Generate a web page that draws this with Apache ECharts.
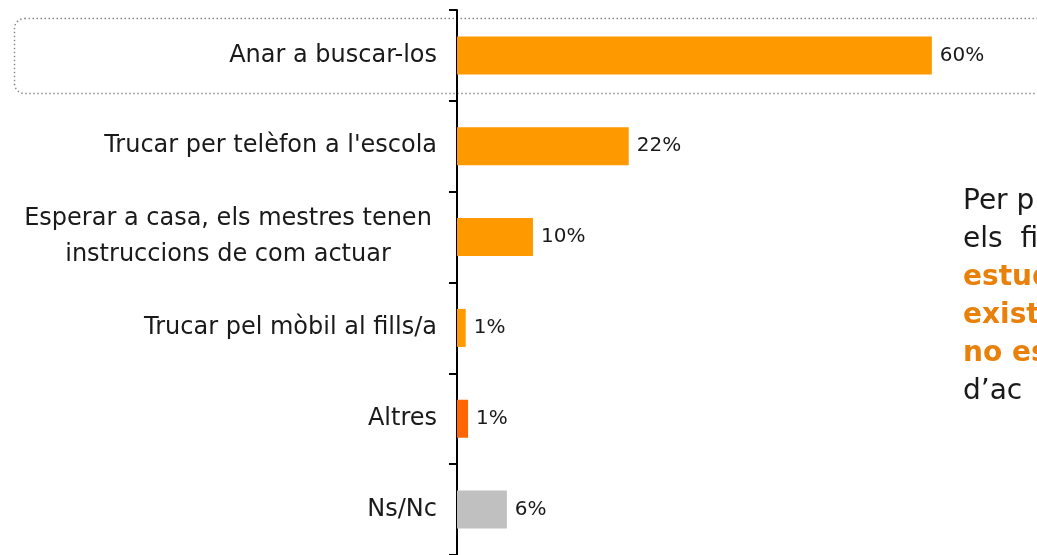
<!DOCTYPE html>
<html>
<head>
<meta charset="utf-8">
<script src="https://cdn.jsdelivr.net/npm/echarts@6/dist/echarts.min.js"></script>
<style>
  html, body { margin: 0; padding: 0; background: #fff; }
  #chart { width: 1037px; height: 555px; }
</style>
</head>
<body>
<div id="chart"></div>
<script>
// values (labels show the rounded number)
const categories = [
    'Anar a buscar-los',
    "Trucar per telèfon a l'escola",
    'Esperar a casa, els mestres tenen\ninstruccions de com actuar',
    'Trucar pel mòbil al fills/a',
    'Altres',
    'Ns/Nc'
];
const values = [60, 21.7, 9.6, 1.1, 1.4, 6.3];

// side note, cut off by the right edge in the original
const noteLines = ['Per p', 'els  fi', 'estud', 'existe', 'no es', 'd’ac'];
const noteHighlight = [false, false, true, true, true, false];

const barColors = ['#FF9900', '#FF9900', '#FF9900', '#FF9900', '#FF6600', '#C0C0C0'];
const FONT = '"DejaVu Sans", sans-serif';

document.addEventListener('DOMContentLoaded', () => {
    const chart = echarts.init(document.getElementById('chart'));

    const noteText = noteLines
        .map((t, i) => (noteHighlight[i] ? '{o|' : '{n|') + t + '}')
        .join('\n');

    const option = {
        animation: false,
        grid: {
            left: 457,
            right: 26,
            top: 10,
            bottom: -2,
            containLabel: false
        },
        xAxis: {
            type: 'value',
            min: 0,
            max: 70,
            show: false
        },
        yAxis: {
            type: 'category',
            inverse: true,
            data: categories,
            axisLine: {
                lineStyle: { color: '#000', width: 2 }
            },
            axisTick: {
                show: true,
                alignWithLabel: false,
                length: 8,
                lineStyle: { color: '#000', width: 2 }
            },
            axisLabel: {
                margin: 20,
                color: '#1a1a1a',
                fontFamily: FONT,
                fontSize: 24,
                formatter: (v) => {
                    if (v.indexOf('\n') >= 0) {
                        return v.split('\n').map(l => '{c|' + l + '}').join('\n');
                    }
                    return v;
                },
                rich: {
                    c: {
                        width: 418,
                        align: 'center',
                        fontFamily: FONT,
                        fontSize: 24,
                        color: '#1a1a1a',
                        lineHeight: 36
                    }
                }
            }
        },
        series: [{
            type: 'bar',
            barWidth: 38,
            data: values.map((v, i) => ({
                value: v,
                itemStyle: { color: barColors[i] }
            })),
            label: {
                show: true,
                position: 'right',
                distance: 8,
                color: '#1a1a1a',
                fontFamily: FONT,
                fontSize: 20,
                formatter: (p) => Math.round(p.value) + '%'
            }
        }],
        graphic: [
            {
                type: 'rect',
                z: -1,
                shape: { x: 14.5, y: 18.5, width: 1100, height: 75, r: 10 },
                style: {
                    fill: 'none',
                    stroke: '#8a8a8a',
                    lineWidth: 1.5,
                    lineDash: [1.5, 2.5]
                }
            },
            {
                type: 'text',
                left: 963,
                top: 188,
                style: {
                    text: noteText,
                    rich: {
                        n: {
                            fontFamily: FONT,
                            fontSize: 28,
                            lineHeight: 38,
                            fill: '#1a1a1a'
                        },
                        o: {
                            fontFamily: FONT,
                            fontSize: 28,
                            fontWeight: 'bold',
                            lineHeight: 38,
                            fill: '#E8800A'
                        }
                    }
                }
            }
        ]
    };

    chart.setOption(option);

    window.addEventListener('resize', () => {
        chart.resize();
    });
});
</script>
</body>
</html>
